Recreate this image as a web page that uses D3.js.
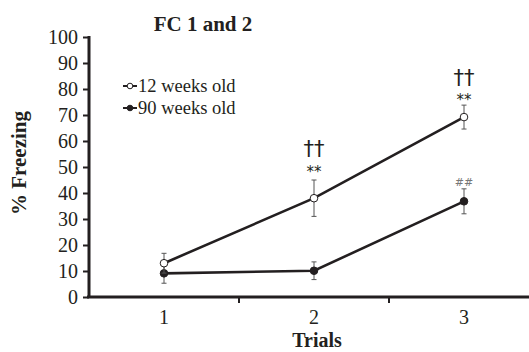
<!DOCTYPE html>
<html>
<head>
<meta charset="utf-8">
<script src="https://cdn.jsdelivr.net/npm/d3@7"></script>
<style>
  body { margin: 0; background: #fff; }
  text { font-family: "Liberation Serif", "Times New Roman", serif; fill: #231f20; }
</style>
</head>
<body>
<svg id="chart" width="529" height="352"></svg>
<script>
// data
var trials = ["1", "2", "3"];
var young = [13, 38, 69.2];        // 12 weeks old
var youngErr = [3.8, 7, 4.6];
var old = [9.1, 10.1, 36.8];       // 90 weeks old
var oldErr = [3.8, 3.4, 4.8];
var yTicks = [0, 10, 20, 30, 40, 50, 60, 70, 80, 90, 100];
var marks = [
    {trial: "2", text: "††", value: young[1], dy: -42, size: 21},
    {trial: "2", text: "**", value: young[1], dy: -21, size: 15},
    {trial: "3", text: "††", value: young[2], dy: -32, size: 21},
    {trial: "3", text: "**", value: young[2], dy: -12, size: 15},
    {trial: "3", text: "##", value: old[2], dy: -15, size: 11}
];

var svg = d3.select("#chart");
var ink = "#231f20";

var x = d3.scaleBand().domain(trials).range([89, 539]);
var y = d3.scaleLinear().domain([0, 100]).range([297, 37]);

// y axis
var yAxis = svg.append("g")
        .attr("transform", "translate(89,0)")
        .call(d3.axisLeft(y).tickValues(yTicks).tickSize(6).tickPadding(5));
yAxis.select(".domain").attr("stroke", ink).attr("stroke-width", 3)
        .attr("d", "M0," + (y(100) - 1) + "V" + (y(0) + 1));
yAxis.selectAll(".tick line").attr("stroke", ink).attr("stroke-width", 2);
yAxis.selectAll(".tick text").style("font-size", "20px")
        .style("font-family", "Liberation Serif").attr("fill", ink);

// x axis, ticks sit between the categories
var xAxis = svg.append("g").attr("transform", "translate(0,297)");
xAxis.append("line")
        .attr("x1", 87).attr("x2", 529)
        .attr("stroke", ink).attr("stroke-width", 3);
xAxis.selectAll(".sep")
        .data(trials.slice(1))
        .enter().append("line")
        .attr("x1", function (d) { return x(d); })
        .attr("x2", function (d) { return x(d); })
        .attr("y1", 0).attr("y2", 6)
        .attr("stroke", ink).attr("stroke-width", 2);
xAxis.selectAll(".lab")
        .data(trials)
        .enter().append("text")
        .attr("x", function (d) { return x(d) + x.bandwidth() / 2; })
        .attr("y", 27)
        .attr("text-anchor", "middle")
        .style("font-size", "20px")
        .text(function (d) { return d; });

function cx(i) { return x(trials[i]) + x.bandwidth() / 2; }

var line = d3.line()
        .x(function (d, i) { return cx(i); })
        .y(function (d) { return y(d); });

function drawSeries(vals, errs, fill) {
    var g = svg.append("g");
    g.selectAll(".err")
            .data(vals)
            .enter().append("path")
            .attr("d", function (d, i) {
                var t = y(d + errs[i]), b = y(d - errs[i]), c = cx(i);
                return "M" + c + "," + t + "V" + b +
                        "M" + (c - 2.5) + "," + t + "H" + (c + 2.5) +
                        "M" + (c - 2.5) + "," + b + "H" + (c + 2.5);
            })
            .attr("stroke", "#555").attr("stroke-width", 1).attr("fill", "none");
    g.append("path")
            .datum(vals)
            .attr("d", line)
            .attr("fill", "none").attr("stroke", ink).attr("stroke-width", 2.6);
    g.selectAll("circle")
            .data(vals)
            .enter().append("circle")
            .attr("cx", function (d, i) { return cx(i); })
            .attr("cy", function (d) { return y(d); })
            .attr("r", 3.8)
            .attr("fill", fill).attr("stroke", ink).attr("stroke-width", 1);
}
drawSeries(old, oldErr, ink);
drawSeries(young, youngErr, "#fff");

// significance marks
svg.selectAll(".sig")
        .data(marks)
        .enter().append("text")
        .attr("x", function (d) { return x(d.trial) + x.bandwidth() / 2; })
        .attr("y", function (d) { return y(d.value) + d.dy; })
        .attr("text-anchor", "middle")
        .style("font-size", function (d) { return d.size + "px"; })
        .style("font-family", "DejaVu Sans")
        .style("fill", function (d) { return d.text == "##" ? "#777" : "#231f20"; })
        .text(function (d) { return d.text; });

// legend
var legend = [{label: "12 weeks old", fill: "#fff"}, {label: "90 weeks old", fill: ink}];
var lg = svg.selectAll(".leg")
        .data(legend)
        .enter().append("g")
        .attr("transform", function (d, i) { return "translate(123," + (86 + i * 22) + ")"; });
lg.append("line").attr("x1", 0).attr("x2", 14)
        .attr("stroke", ink).attr("stroke-width", 2);
lg.append("circle").attr("cx", 7).attr("r", 2.8)
        .attr("fill", function (d) { return d.fill; })
        .attr("stroke", ink).attr("stroke-width", 1);
lg.append("text").attr("x", 15).attr("y", 6)
        .style("font-size", "18.5px")
        .text(function (d) { return d.label; });

// titles
svg.append("text").attr("x", 203).attr("y", 31)
        .attr("text-anchor", "middle")
        .style("font-size", "21px").style("font-weight", "bold")
        .text("FC 1 and 2");
svg.append("text").attr("x", 317).attr("y", 347)
        .attr("text-anchor", "middle")
        .style("font-size", "20px").style("font-weight", "bold")
        .text("Trials");
svg.append("text")
        .attr("transform", "translate(26,163) rotate(-90)")
        .attr("text-anchor", "middle")
        .style("font-size", "21px").style("font-weight", "bold")
        .text("% Freezing");
</script>
</body>
</html>
